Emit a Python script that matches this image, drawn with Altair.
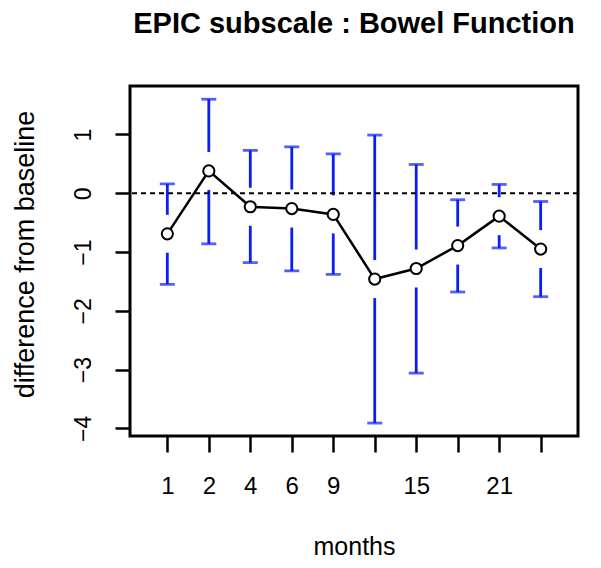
import json
import altair as alt
import pandas as pd

# ---- data ----
positions = [1, 2, 3, 4, 5, 6, 7, 8, 9, 10]
tick_labels = ["1", "2", "4", "6", "9", "", "15", "", "21", ""]
mean_diff = [-0.69, 0.38, -0.23, -0.26, -0.36, -1.46, -1.28, -0.89, -0.39, -0.95]
upper_ci = [0.16, 1.60, 0.73, 0.79, 0.67, 0.99, 0.49, -0.11, 0.15, -0.14]
lower_ci = [-1.55, -0.86, -1.18, -1.32, -1.38, -3.91, -3.06, -1.68, -0.93, -1.76]
y_ticks = [-4, -3, -2, -1, 0, 1]
title_text = "EPIC subscale : Bowel Function"

GAP = 0.323  # gap (in y units) left around each point on the error bars
FONT = "Liberation Sans"
BLUE = "#0a1ef5"

df = pd.DataFrame({"x": positions, "mean": mean_diff, "up": upper_ci, "lo": lower_ci})

seg_rows = []
for x, m, u, l in zip(positions, mean_diff, upper_ci, lower_ci):
    if u > m + GAP:
        seg_rows.append({"x": x, "y": u, "y2": m + GAP})
    if l < m - GAP:
        seg_rows.append({"x": x, "y": m - GAP, "y2": l})
seg = pd.DataFrame(seg_rows)

cap = pd.DataFrame({"x": positions * 2, "y": upper_ci + lower_ci})

xscale = alt.Scale(domain=[0.1, 10.9], nice=False, zero=False)
yscale = alt.Scale(domain=[-4.13, 1.825], nice=False, zero=False)

label_expr = json.dumps(tick_labels).replace('"', "'") + "[datum.value - 1]"

xaxis = alt.Axis(
    values=positions, labelExpr=label_expr, grid=False, domain=False,
    tickSize=16, tickWidth=2.5, tickColor="black",
    labelFont=FONT, labelFontSize=24, labelColor="black", labelPadding=22,
    labelOverlap=False, labelFlush=False,
    title="months", titleFont=FONT, titleFontSize=25, titleFontWeight="normal",
    titleColor="black", titleBaseline="alphabetic", titleX=224, titleY=118,
)
yaxis = alt.Axis(
    values=y_ticks, format="d", grid=False, domain=False,
    tickSize=15, tickWidth=2.5, tickColor="black",
    labelFont=FONT, labelFontSize=23, labelColor="black", labelAngle=-90,
    labelAlign="center", labelBaseline="alphabetic", labelPadding=25,
    title="difference from baseline", titleFont=FONT, titleFontSize=27,
    titleFontWeight="normal", titleColor="black", titleAngle=-90,
    titleBaseline="alphabetic", titleX=-97, titleY=168,
)

bars = alt.Chart(seg).mark_rule(color=BLUE, strokeWidth=2.8).encode(
    x=alt.X("x:Q", scale=xscale, axis=xaxis),
    y=alt.Y("y:Q", scale=yscale, axis=yaxis),
    y2="y2:Q",
)
caps = alt.Chart(cap).mark_tick(color=BLUE, orient="horizontal", size=15, thickness=2.8).encode(
    x=alt.X("x:Q", scale=xscale), y=alt.Y("y:Q", scale=yscale)
)
zero = alt.Chart(pd.DataFrame({"y": [0]})).mark_rule(
    color="black", strokeWidth=2.2, strokeDash=[5, 4]
).encode(y=alt.Y("y:Q", scale=yscale))
line = alt.Chart(df).mark_line(color="black", strokeWidth=2.5).encode(
    x=alt.X("x:Q", scale=xscale), y=alt.Y("mean:Q", scale=yscale)
)
pts = alt.Chart(df).mark_point(
    shape="circle", filled=False, fill="white", fillOpacity=1,
    stroke="black", strokeWidth=2, size=125, opacity=1
).encode(x=alt.X("x:Q", scale=xscale), y=alt.Y("mean:Q", scale=yscale))

title = alt.Chart(pd.DataFrame({"t": [title_text]})).mark_text(
    font=FONT, fontSize=29, fontWeight="bold", color="black",
    align="center", baseline="alphabetic",
).encode(text="t:N", x=alt.value(224), y=alt.value(-53))

chart = alt.layer(bars, caps, zero, line, pts, title).properties(
    width=448, height=350,
    autosize=alt.AutoSizeParams(type="none"),
    padding={"left": 122, "top": 78, "right": 15, "bottom": 124},
).configure(
    background="white",
    view=alt.ViewConfig(stroke="black", strokeWidth=3),
)

chart.save("out.html", embed_options={"renderer": "svg", "actions": False})
